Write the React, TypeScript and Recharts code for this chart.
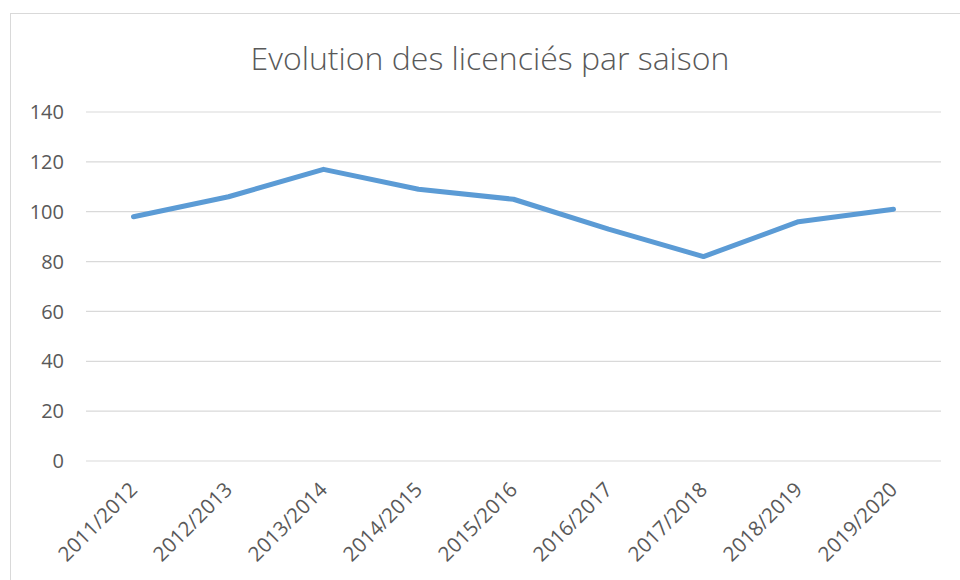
import React from "react";
import { LineChart, Line, XAxis, YAxis, CartesianGrid } from "recharts";

const seasons = [
  "2011/2012",
  "2012/2013",
  "2013/2014",
  "2014/2015",
  "2015/2016",
  "2016/2017",
  "2017/2018",
  "2018/2019",
  "2019/2020",
];
const licencies = [98, 106, 117, 109, 105, 93, 82, 96, 101];
const yTicks = [0, 20, 40, 60, 80, 100, 120, 140];
const title = "Evolution des licenciés par saison";

const data = seasons.map((s, i) => ({ saison: s, licencies: licencies[i] }));

const FONT = "'Open Sans', 'DejaVu Sans', sans-serif";
const TEXT = "#595959";

const XTick = (props: any) => {
  const { x, y, payload } = props;
  const bx = x + 5;
  const by = y + 30;
  return (
    <text
      x={bx}
      y={by}
      textAnchor="end"
      fontFamily={FONT}
      fontSize={20.5}
      fill={TEXT}
      transform={`rotate(-45, ${bx}, ${by})`}
    >
      {payload.value}
    </text>
  );
};

export default function App() {
  return (
    <div style={{ position: "absolute", left: 0, top: 0, width: 960, height: 580, background: "#fff", overflow: "hidden" }}>
      <div
        style={{
          position: "absolute",
          left: 10,
          top: 13,
          width: 960,
          height: 580,
          borderTop: "1.5px solid #d9d9d9",
          borderLeft: "1.5px solid #d9d9d9",
        }}
      />
      <div
        style={{
          position: "absolute",
          left: 0,
          top: 42,
          width: 980,
          textAlign: "center",
          fontFamily: FONT,
          fontSize: 32,
          fontWeight: 300,
          lineHeight: 1,
          color: TEXT,
          whiteSpace: "nowrap",
        }}
      >
        {title}
      </div>
      <div style={{ position: "absolute", left: 0, top: 0 }}>
        <LineChart
          width={960}
          height={580}
          data={data}
          margin={{ top: 112, right: 19, left: 0, bottom: 0 }}
        >
          <CartesianGrid vertical={false} stroke="#d9d9d9" strokeWidth={1.2} />
          <XAxis
            dataKey="saison"
            axisLine={false}
            tickLine={false}
            tickSize={0}
            tickMargin={0}
            height={119}
            interval={0}
            padding={{ left: 47.5, right: 47.5 }}
            tick={<XTick />}
          />
          <YAxis
            domain={[0, 140]}
            ticks={yTicks}
            axisLine={false}
            tickLine={false}
            tickSize={0}
            tickMargin={22}
            width={86}
            interval={0}
            tick={{ fontFamily: FONT, fontSize: 20, fill: TEXT }}
          />
          <Line
            type="linear"
            dataKey="licencies"
            stroke="#5B9BD5"
            strokeWidth={5}
            strokeLinecap="round"
            strokeLinejoin="round"
            dot={false}
            activeDot={false}
            isAnimationActive={false}
          />
        </LineChart>
      </div>
    </div>
  );
}
